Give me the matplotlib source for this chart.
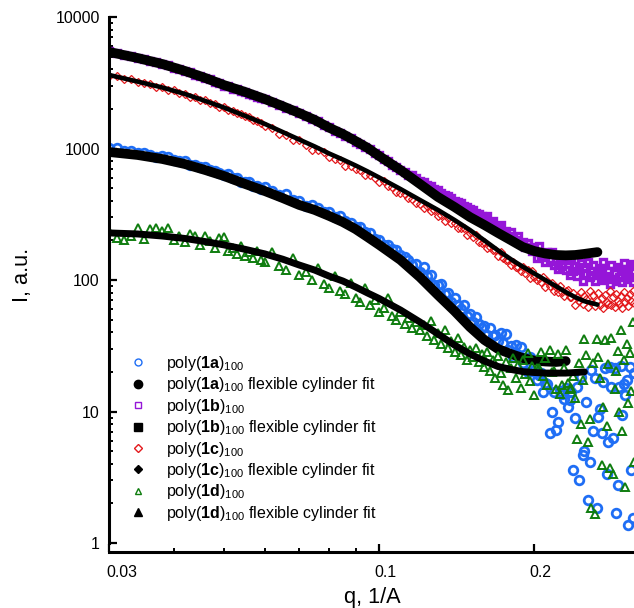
import matplotlib
matplotlib.use("Agg")
import matplotlib.pyplot as plt
from matplotlib.lines import Line2D
from matplotlib.ticker import FixedLocator, LogLocator, NullFormatter
from matplotlib.transforms import ScaledTranslation

plt.rcParams["font.family"] = "Liberation Sans"
plt.rcParams["mathtext.fontset"] = "custom"
plt.rcParams["mathtext.rm"] = "Liberation Sans"
plt.rcParams["mathtext.bf"] = "Liberation Sans:bold"
plt.rcParams["mathtext.it"] = "Liberation Sans:italic"

# scattering vector grid shared by the measured curves
Q = [0.030, 0.031, 0.032, 0.033, 0.034, 0.035, 0.036, 0.037, 0.038, 0.039,
     0.040, 0.041, 0.042, 0.043, 0.044, 0.045, 0.046, 0.047, 0.048, 0.049,
     0.050, 0.051, 0.052, 0.053, 0.054, 0.055, 0.056, 0.057, 0.058, 0.059,
     0.060, 0.062, 0.064, 0.066, 0.068, 0.070, 0.072, 0.074, 0.076, 0.078,
     0.080, 0.082, 0.084, 0.086, 0.088, 0.090, 0.092, 0.094, 0.096, 0.098,
     0.100, 0.102, 0.104, 0.106, 0.108, 0.110, 0.112, 0.114, 0.116, 0.118,
     0.120, 0.122, 0.124, 0.126, 0.128, 0.130, 0.132, 0.134, 0.136, 0.138,
     0.140, 0.142, 0.144, 0.146, 0.148, 0.150, 0.152, 0.154, 0.156, 0.158,
     0.160, 0.162, 0.164, 0.166, 0.168, 0.170, 0.172, 0.174, 0.176, 0.178,
     0.180, 0.182, 0.184, 0.186, 0.188, 0.190, 0.192, 0.194, 0.196, 0.198,
     0.200, 0.202, 0.204, 0.206, 0.208, 0.210, 0.212, 0.214, 0.216, 0.218,
     0.220, 0.222, 0.224, 0.226, 0.228, 0.230, 0.232, 0.234, 0.236, 0.238,
     0.240, 0.242, 0.244, 0.246, 0.248, 0.250, 0.252, 0.254, 0.256, 0.258,
     0.260, 0.262, 0.264, 0.266, 0.268, 0.270, 0.272, 0.274, 0.276, 0.278,
     0.280, 0.282, 0.284, 0.286, 0.288, 0.290, 0.292, 0.294, 0.296, 0.298,
     0.300, 0.302, 0.304, 0.306, 0.308, 0.310, 0.312]

I_1A = [1015, 1005, 960, 960, 930, 932, 889, 862, 873, 862, 814, 803, 803, 751, 751,
        722, 725, 684, 680, 656, 626, 635, 599, 595, 561, 557, 555, 522, 518, 492,
        511, 473, 445, 448, 405, 399, 365, 371, 350, 331, 328, 300, 305, 282, 273,
        255, 253, 232, 228, 206, 200, 186, 184, 172, 170, 154, 150, 141, 130, 132,
        115, 126, 107, 109, 92.4, 91.5, 93.6, 78.7, 79.0, 67.7, 72.7, 64.3, 60.1, 64.5,
        53.3, 54.9, 47.8, 52.0, 46.4, 43.0, 44.6, 38.4, 43.1, 37.8, 37.9, 34.2, 39.2,
        33.0, 38.8, 29.5, 31.3, 26.2, 31.8, 26.8, 30.8, 23.4, 25.7, 20.0, 26.2, 20.2,
        21.7, 17.3, 18.9, 19.5, 14.0,
        16.4, 16.3, 6.86, 10.0, 14.0, 7.18, 8.31, 14.3, 13.6, 12.5, 15.1, 10.8, 12.2,
        14.0, 3.57, 8.92, 15.3, 2.99, 18.2, 4.69, 5.01, 11.9, 2.14, 4.10, 20.8, 7.07,
        17.9, 1.84, 9.16, 10.5, 6.86, 16.9, 21.5, 3.32, 5.88, 21.7, 15.3, 6.27, 21.3,
        1.70, 2.78, 15.3, 22.3, 9.42, 16.2, 13.4, 17.5, 1.37, 21.7, 3.57, 1.55, 19.7]

I_1B = [5500, 5310, 5100, 5060, 4850, 4790, 4600, 4530, 4370, 4290, 4110, 4030, 3860,
        3790, 3630, 3570, 3420, 3360, 3210, 3160, 3010, 2990, 2860, 2840, 2720, 2700,
        2590, 2570, 2460, 2440,
        2390, 2250, 2160, 2040, 1970, 1850, 1780, 1670, 1610, 1510, 1460, 1370, 1320,
        1245, 1205, 1130, 1090, 1025, 988, 922, 885, 830, 800, 750, 726, 682, 668, 634,
        624, 593,
        571, 560, 527, 516, 490, 485, 460, 441, 435, 424, 401, 391, 384, 363, 359, 346,
        341, 323, 317, 305, 292, 305, 272, 279, 249, 252, 261, 233, 237, 215, 233, 213,
        203, 218, 190, 196, 177, 191, 177, 167, 174, 146, 181, 150, 157, 138, 162, 143,
        163, 131, 139, 122, 145, 128, 144, 119, 132, 110, 141, 118, 128, 107, 123, 135,
        99, 126, 112, 138, 105, 109, 130, 98, 117, 111, 124, 100, 136, 104, 108, 118, 93,
        129, 102, 114, 98, 126, 106, 122, 97, 134, 112, 102, 118, 106, 132, 97, 127]

I_1C = [3560, 3550, 3390, 3380, 3190, 3140, 3090, 2940, 2930, 2800, 2780, 2640, 2600,
        2480, 2460, 2350, 2340, 2210, 2170, 2080, 2070, 1950, 1930, 1850, 1840, 1770,
        1740, 1640, 1630, 1560,
        1478, 1430, 1282, 1258, 1158, 1154, 1056, 979, 972, 937, 856, 828, 815, 741, 736,
        694, 691, 633, 628, 596, 556, 564, 517, 509, 467, 456, 453, 417, 412, 382,
        380, 351, 363, 336, 342, 309, 310, 281, 298, 270, 270, 248, 249, 248, 221, 229,
        214, 219, 196, 191, 195, 174, 177, 168, 168, 153, 162, 146, 143, 142, 130, 138,
        126, 126, 118, 126, 114, 119, 104, 118, 106, 99.5, 104, 97.1, 105, 89.1, 98.6,
        89.9, 94.4, 82.5, 88.0, 80.6, 90.4, 81.3, 75.8, 82.2, 83.9, 74.0, 74.9, 79.4,
        64.4, 74.9, 68.8, 81.2, 65.7, 75.2, 71.4, 62.8, 81.9, 67.7, 76.6, 63.3, 69.5,
        79.9, 65.1, 72.7, 61.1, 77.4, 68.3, 66.2, 82.5, 64.1, 73.9, 62.1, 78.7, 69.4,
        65.4, 75.4, 61.6, 80.6, 67.9, 72.5, 64.0, 78.7, 69.5, 82.6, 66.3]

I_1D = [236, 209, 201, 216, 249, 205, 244, 249, 236, 249, 201, 216, 195, 224, 216, 185,
        216, 198, 175, 209, 212, 166, 175, 158, 181, 152, 163, 147, 166, 142,
        137, 163, 128, 119, 147, 109, 115, 100, 123, 93.2, 87.0, 107, 82.5, 78.3, 94.9,
        73.0, 68.0, 87.0, 64.5, 70.4, 57.1, 61.2, 73.0, 53.2, 49.6, 57.1, 46.3, 51.4,
        43.2, 47.9,
        41.7, 45.5, 37.5, 48.8, 35.0, 39.5, 32.6, 41.7, 30.4, 34.4, 28.3, 36.2, 26.9,
        30.9, 24.6, 29.4, 26.0, 30.4, 23.8, 27.4, 21.8, 28.3, 20.3, 24.6, 18.0, 26.4,
        19.6, 15.9, 23.8, 14.6, 21.4, 25.5, 18.0, 22.6, 15.1, 24.6, 19.3, 27.9, 17.1,
        22.2, 13.4,
        21.6, 21.4, 28.2, 18.7, 25.7, 15.8, 29.4, 19.8, 20.2, 14.8, 27.5, 13.7, 16.0,
        21.4, 29.4, 16.5, 14.8, 15.1, 18.7, 12.7,
        6.15, 23.5, 8.08, 17.5, 35.7, 26.8, 5.86, 8.80, 1.86, 23.5, 1.65, 35.7, 26.2,
        18.0, 3.92, 10.8, 35.1, 7.73, 23.0, 3.71, 36.1, 3.34, 14.9, 20.2, 28.8, 9.97,
        41.7, 7.07, 24.6, 2.66, 32.7, 11.6, 27.8, 14.4, 47.9, 4.13]

# flexible cylinder fits
QF = [0.030, 0.034, 0.038, 0.042, 0.046, 0.050, 0.055, 0.060, 0.065, 0.070, 0.075,
      0.080, 0.085, 0.090, 0.095, 0.100, 0.110, 0.120, 0.130, 0.140, 0.150, 0.160,
      0.170, 0.180, 0.190, 0.200, 0.210, 0.220, 0.230, 0.240, 0.250, 0.265]
FIT_1A = [940, 893, 832, 762, 686, 618, 537, 475, 420, 372, 341, 307, 276, 244, 212,
          185, 142, 105, 76.9, 58.1, 43.9, 35.0, 29.9, 27.4, 25.5, 24.4, 24.0, 23.8, 24.2]
FIT_1B = [5420, 4880, 4390, 3890, 3440, 3040, 2690, 2380, 2100, 1860, 1650, 1440, 1290,
          1140, 1010, 877, 686, 537, 428, 359, 301, 262, 228, 201, 178, 166, 159, 155,
          154, 155, 158, 163]
FIT_1C = [3620, 3230, 2910, 2600, 2300, 2050, 1770, 1540, 1335, 1170, 1036, 916, 825,
          743, 669, 602, 492, 406, 341, 286, 240, 200, 168, 144, 126, 112, 100, 90, 81,
          74, 69, 65]
FIT_1D = [228, 224, 216, 207, 196, 185, 171, 158, 144, 130, 119, 107, 98.3, 88.5, 79.6,
          72.3, 59.1, 47.9, 38.9, 32.0, 27.4, 24.2, 22.0, 20.9, 20.1, 19.8, 19.6, 19.6,
          19.6, 19.8, 20.0]

LABELS = ["1a", "1b", "1c", "1d"]
COLORS = {"1a": "#1f6ef5", "1b": "#9516d8", "1c": "#e3191c", "1d": "#0f7d0f"}
MARKERS = {"1a": "o", "1b": "s", "1c": "D", "1d": "^"}

fig = plt.figure(figsize=(6.34, 6.08), dpi=100)
ax = fig.add_axes([0.1727, 0.1069, 0.8273, 0.8651])

data = {"1a": I_1A, "1b": I_1B, "1c": I_1C, "1d": I_1D}
fits = {"1a": FIT_1A, "1b": FIT_1B, "1c": FIT_1C, "1d": FIT_1D}
data_style = {
    "1a": dict(ms=6.2, mew=2.0),
    "1b": dict(ms=5.0, mew=2.4),
    "1c": dict(ms=3.8, mew=0.9),
    "1d": dict(ms=5.4, mew=1.4),
}
fit_lw = {"1a": 7, "1b": 7, "1c": 3.3, "1d": 5}

for key in LABELS:
    ax.plot(Q, data[key], linestyle="none", marker=MARKERS[key], mfc="none",
            mec=COLORS[key], **data_style[key])
    ax.plot(QF[:len(fits[key])], fits[key], color="black", lw=fit_lw[key],
            solid_capstyle="round", solid_joinstyle="round")

ax.set_xscale("log")
ax.set_yscale("log")
ax.set_xlim(0.03, 0.312)
ax.set_ylim(1, 10000)

ax.set_xticks([0.03, 0.1, 0.2])
ax.set_xticklabels(["0.03", "0.1", "0.2"])
ax.xaxis.set_minor_locator(FixedLocator([0.04, 0.05, 0.06, 0.07, 0.08, 0.09]))
ax.xaxis.set_minor_formatter(NullFormatter())
ax.set_yticks([1, 10, 100, 1000, 10000])
ax.set_yticklabels(["1", "10", "100", "1000", "10000"])
ax.yaxis.set_minor_locator(LogLocator(base=10, subs=range(2, 10)))
ax.yaxis.set_minor_formatter(NullFormatter())

for side in ["top", "right"]:
    ax.spines[side].set_visible(False)
for side in ["left", "bottom"]:
    ax.spines[side].set_linewidth(2.2)
ax.spines["bottom"].set_position(("outward", 6.5))

ax.tick_params(which="major", direction="in", length=6, width=1.6, labelsize=11.4)
ax.tick_params(which="minor", direction="in", length=3.2, width=1.4)
ax.tick_params(axis="y", which="major", pad=7)
ax.tick_params(axis="x", which="major", pad=9)

# x tick labels sit a little right of their ticks in the original
for lab, dx in zip(ax.get_xticklabels(), [0.12, 0.06, 0.06]):
    lab.set_transform(lab.get_transform() + ScaledTranslation(dx, 0, fig.dpi_scale_trans))

fig.text(0.035, 0.548, "I, a.u.", rotation=90, ha="center", va="center", fontsize=15.7)
fig.text(0.588, 0.018, "q, 1/A", ha="center", va="center", fontsize=15.7)

handles = []
names = []
for key in LABELS:
    handles.append(Line2D([], [], linestyle="none", marker=MARKERS[key], mfc="none",
                          mec=COLORS[key], ms=5 if key != "1c" else 4.5, mew=1.0))
    names.append(r"poly($\mathbf{%s}$)$_{100}$" % key)
    handles.append(Line2D([], [], linestyle="none", marker=MARKERS[key], color="black",
                          ms=6 if key != "1c" else 4.5))
    names.append(r"poly($\mathbf{%s}$)$_{100}$ flexible cylinder fit" % key)

fig.legend(handles, names, loc="upper left", bbox_to_anchor=(126 / 634, 1 - 354 / 608),
           frameon=False, fontsize=11.5, handlelength=1.5, handletextpad=1.0,
           labelspacing=0.15, borderpad=0, borderaxespad=0)

fig.savefig("out.png", dpi=100)
